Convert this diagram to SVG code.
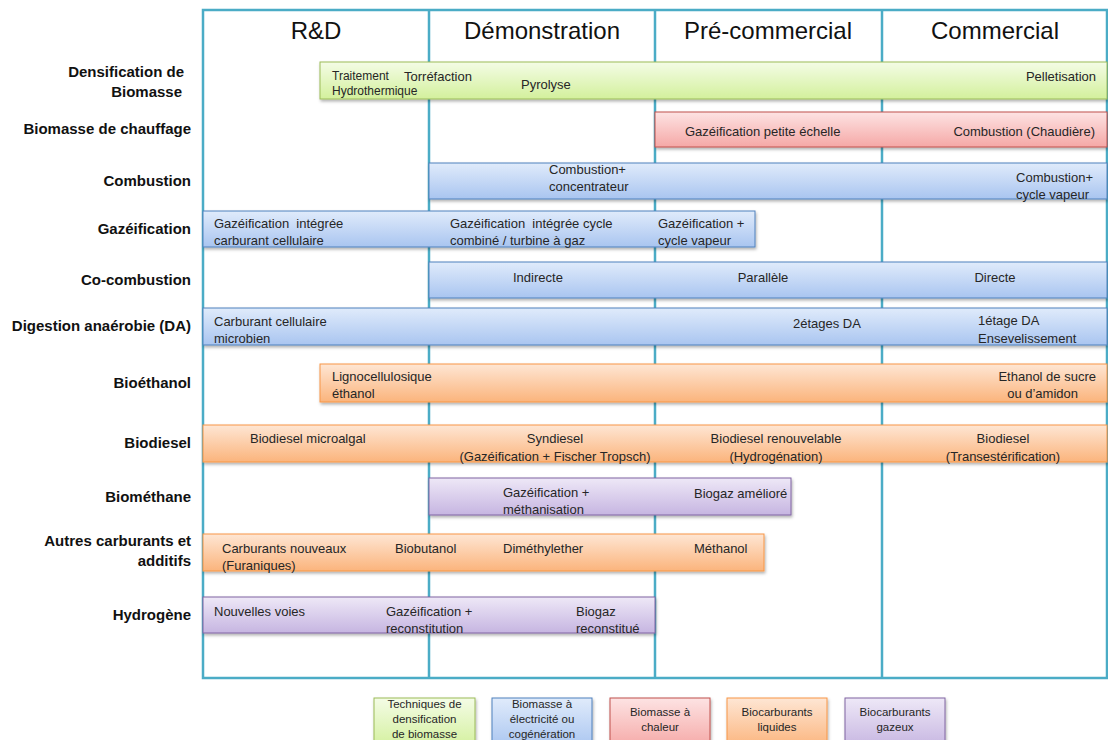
<svg xmlns="http://www.w3.org/2000/svg" width="1108" height="740" viewBox="0 0 1108 740">
<defs>
<linearGradient id="gG" x1="0" y1="0" x2="0" y2="1"><stop offset="0" stop-color="#f4fce6"/><stop offset="1" stop-color="#d3f09c"/></linearGradient>
<linearGradient id="gR" x1="0" y1="0" x2="0" y2="1"><stop offset="0" stop-color="#fde3e3"/><stop offset="1" stop-color="#f5a8a6"/></linearGradient>
<linearGradient id="gB" x1="0" y1="0" x2="0" y2="1"><stop offset="0" stop-color="#e0ebfb"/><stop offset="1" stop-color="#a9c5f0"/></linearGradient>
<linearGradient id="gO" x1="0" y1="0" x2="0" y2="1"><stop offset="0" stop-color="#fee6d4"/><stop offset="1" stop-color="#fbb47c"/></linearGradient>
<linearGradient id="gP" x1="0" y1="0" x2="0" y2="1"><stop offset="0" stop-color="#eee8f7"/><stop offset="1" stop-color="#c6b5e1"/></linearGradient>
<filter id="sh" x="-5%" y="-20%" width="110%" height="150%"><feDropShadow dx="1" dy="2" stdDeviation="1.5" flood-color="#000" flood-opacity="0.3"/></filter>
</defs>
<style>
.grid{fill:none;stroke:#4bacc6;stroke-width:2.5}
.hd{font-family:"Liberation Sans",Arial,sans-serif;font-size:24px;fill:#111;text-anchor:middle}
.rl{font-family:"Liberation Sans",Arial,sans-serif;font-size:15px;font-weight:bold;fill:#111;text-anchor:end}
.bt{font-family:"Liberation Sans",Arial,sans-serif;font-size:13px;fill:#262626}
.pre{white-space:pre}
.sm{font-size:12px}
.mid{text-anchor:middle}
.end{text-anchor:end}
.lg{font-family:"Liberation Sans",Arial,sans-serif;font-size:11.5px;fill:#262626;text-anchor:middle}
.bG{fill:url(#gG);stroke:#9bbb59;stroke-width:1;filter:url(#sh)}
.bR{fill:url(#gR);stroke:#c0504d;stroke-width:1;filter:url(#sh)}
.bB{fill:url(#gB);stroke:#4f81bd;stroke-width:1;filter:url(#sh)}
.bO{fill:url(#gO);stroke:#f79646;stroke-width:1;filter:url(#sh)}
.bP{fill:url(#gP);stroke:#8064a2;stroke-width:1;filter:url(#sh)}
</style>
<rect width="1108" height="740" fill="#fff"/>
<g id="grid">
<rect class="grid" x="203" y="10" width="904" height="668"/>
<line class="grid" x1="429" y1="10" x2="429" y2="678"/>
<line class="grid" x1="655" y1="10" x2="655" y2="678"/>
<line class="grid" x1="882" y1="10" x2="882" y2="678"/>
</g>
<g id="headers">
<text class="hd" x="316" y="39">R&amp;D</text>
<text class="hd" x="542" y="39">Démonstration</text>
<text class="hd" x="768" y="39">Pré-commercial</text>
<text class="hd" x="995" y="39">Commercial</text>
</g>
<g id="row-labels">
<text class="rl" x="184" y="77">Densification de</text>
<text class="rl" x="182" y="97">Biomasse</text>
<text class="rl" x="191" y="134">Biomasse de chauffage</text>
<text class="rl" x="191" y="186">Combustion</text>
<text class="rl" x="191" y="234">Gazéification</text>
<text class="rl" x="191" y="285">Co-combustion</text>
<text class="rl" x="191" y="331">Digestion anaérobie (DA)</text>
<text class="rl" x="191" y="388">Bioéthanol</text>
<text class="rl" x="191" y="448">Biodiesel</text>
<text class="rl" x="191" y="502">Biométhane</text>
<text class="rl" x="191" y="546">Autres carburants et</text>
<text class="rl" x="191" y="566">additifs</text>
<text class="rl" x="191" y="620">Hydrogène</text>
</g>
<g id="connectors"></g>
<g id="bar-densification">
<rect class="bG" x="320" y="62" width="787" height="37"/>
<text class="bt sm" x="332" y="80">Traitement</text>
<text class="bt sm" x="332" y="95">Hydrothermique</text>
<text class="bt" x="404" y="81">Torréfaction</text>
<text class="bt" x="521" y="89">Pyrolyse</text>
<text class="bt end" x="1096" y="81">Pelletisation</text>
</g>
<g id="bar-chauffage">
<rect class="bR" x="655" y="112" width="452" height="35"/>
<text class="bt" x="685" y="136">Gazéification petite échelle</text>
<text class="bt end" x="1095" y="136">Combustion (Chaudière)</text>
</g>
<g id="bar-combustion">
<rect class="bB" x="429" y="163" width="678" height="36"/>
<text class="bt" x="549" y="174">Combustion+</text>
<text class="bt" x="549" y="191">concentrateur</text>
<text class="bt end" x="1093" y="182">Combustion+</text>
<text class="bt end" x="1089" y="199">cycle vapeur</text>
</g>
<g id="bar-gazeification">
<rect class="bB" x="203" y="211" width="552" height="36"/>
<text class="bt pre" x="214" y="228">Gazéification  intégrée</text>
<text class="bt" x="214" y="245">carburant cellulaire</text>
<text class="bt pre" x="450" y="228">Gazéification  intégrée cycle</text>
<text class="bt" x="450" y="245">combiné / turbine à gaz</text>
<text class="bt" x="658" y="228">Gazéification +</text>
<text class="bt" x="658" y="245">cycle vapeur</text>
</g>
<g id="bar-cocombustion">
<rect class="bB" x="429" y="262" width="678" height="36"/>
<text class="bt" x="513" y="282">Indirecte</text>
<text class="bt mid" x="763" y="282">Parallèle</text>
<text class="bt mid" x="995" y="282">Directe</text>
</g>
<g id="bar-digestion">
<rect class="bB" x="203" y="308" width="904" height="37"/>
<text class="bt" x="214" y="326">Carburant cellulaire</text>
<text class="bt" x="214" y="343">microbien</text>
<text class="bt" x="793" y="328">2étages DA</text>
<text class="bt" x="978" y="325">1étage DA</text>
<text class="bt" x="978" y="343">Ensevelissement</text>
</g>
<g id="bar-bioethanol">
<rect class="bO" x="320" y="364" width="787" height="38"/>
<text class="bt" x="332" y="381">Lignocellulosique</text>
<text class="bt" x="332" y="398">éthanol</text>
<text class="bt end" x="1096" y="381">Ethanol de sucre</text>
<text class="bt end" x="1078" y="398">ou d’amidon</text>
</g>
<g id="bar-biodiesel">
<rect class="bO" x="203" y="425" width="904" height="37"/>
<text class="bt" x="250" y="443">Biodiesel microalgal</text>
<text class="bt mid" x="555" y="443">Syndiesel</text>
<text class="bt mid" x="555" y="461">(Gazéification + Fischer Tropsch)</text>
<text class="bt mid" x="776" y="443">Biodiesel renouvelable</text>
<text class="bt mid" x="776" y="461">(Hydrogénation)</text>
<text class="bt mid" x="1003" y="443">Biodiesel</text>
<text class="bt mid" x="1003" y="461">(Transestérification)</text>
</g>
<g id="bar-biomethane">
<rect class="bP" x="429" y="478" width="362" height="37"/>
<text class="bt" x="503" y="497">Gazéification +</text>
<text class="bt" x="503" y="514">méthanisation</text>
<text class="bt" x="694" y="498">Biogaz amélioré</text>
</g>
<g id="bar-autres">
<rect class="bO" x="203" y="534" width="561" height="37"/>
<text class="bt" x="222" y="553">Carburants nouveaux</text>
<text class="bt" x="222" y="570">(Furaniques)</text>
<text class="bt" x="395" y="553">Biobutanol</text>
<text class="bt" x="503" y="553">Diméthylether</text>
<text class="bt" x="694" y="553">Méthanol</text>
</g>
<g id="bar-hydrogene">
<rect class="bP" x="203" y="597" width="452" height="36"/>
<text class="bt" x="214" y="616">Nouvelles voies</text>
<text class="bt" x="386" y="616">Gazéification +</text>
<text class="bt" x="386" y="633">reconstitution</text>
<text class="bt" x="576" y="616">Biogaz</text>
<text class="bt" x="576" y="633">reconstitué</text>
</g>
<g id="legend-green">
<rect class="bG" x="374" y="698" width="101" height="50"/>
<text class="lg" x="424.5" y="708">Techniques de</text>
<text class="lg" x="424.5" y="723">densification</text>
<text class="lg" x="424.5" y="738">de biomasse</text>
</g>
<g id="legend-blue">
<rect class="bB" x="492" y="698" width="100" height="50"/>
<text class="lg" x="542" y="708">Biomasse à</text>
<text class="lg" x="542" y="723">électricité ou</text>
<text class="lg" x="542" y="738">cogénération</text>
</g>
<g id="legend-red">
<rect class="bR" x="610" y="698" width="100" height="50"/>
<text class="lg" x="660" y="716">Biomasse à</text>
<text class="lg" x="660" y="731">chaleur</text>
</g>
<g id="legend-orange">
<rect class="bO" x="727" y="698" width="100" height="50"/>
<text class="lg" x="777" y="716">Biocarburants</text>
<text class="lg" x="777" y="731">liquides</text>
</g>
<g id="legend-purple">
<rect class="bP" x="845" y="698" width="100" height="50"/>
<text class="lg" x="895" y="716">Biocarburants</text>
<text class="lg" x="895" y="731">gazeux</text>
</g>
</svg>
